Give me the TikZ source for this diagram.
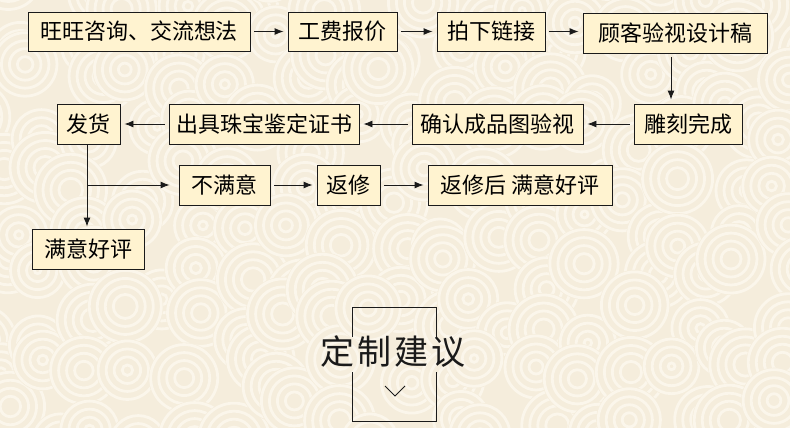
\documentclass[tikz,border=0pt]{standalone}
\usepackage{fontspec}
\newfontfamily\cjk{Noto Sans CJK SC}
\usetikzlibrary{arrows.meta,calc}

\definecolor{bgbase}{HTML}{F5EDDC}
\definecolor{ringc}{HTML}{FBF6EB}
\definecolor{boxfill}{HTML}{FFF3D0}
\definecolor{linec}{HTML}{1A1A1A}

\tikzset{
  box/.style={draw=linec, line width=0.9pt, fill=boxfill, inner xsep=2pt,
    minimum height=39pt, font=\cjk\fontsize{22}{26}\selectfont},
  arr/.style={draw=linec, line width=0.9pt, -{Latex[length=9pt,width=7pt]},
    shorten <=4pt, shorten >=4pt}
}

\begin{document}
\begin{tikzpicture}[x=1pt,y=-1pt]
  \useasboundingbox (0,0) rectangle (790,428);
  % background circles
  \begin{scope}
    \clip (0,0) rectangle (790,428);
    \fill[bgbase] (0,0) rectangle (790,428);
    \pgfmathsetseed{17}
    \foreach \i in {0,...,16}
      \foreach \j in {0,...,9} {
        \pgfmathsetmacro\cx{\i*50-10+rand*22}
        \pgfmathsetmacro\cy{\j*48-10+rand*22}
        \pgfmathsetmacro\rr{29+rnd*9}
        \fill[bgbase] (\cx,\cy) circle (\rr pt);
        \foreach \k in {0,...,3} {
          \pgfmathsetmacro\rk{\rr-2-\k*8}
          \draw[ringc, line width=2.8pt] (\cx,\cy) circle (\rk pt);
        }
      }
  \end{scope}

  % first row
  \node[box, minimum width=222pt] (consult) at (139,31.5) {旺旺咨询、交流想法};
  \node[box, minimum width=109pt] (price) at (342.5,31.5) {工费报价};
  \node[box, minimum width=108pt] (order) at (491,31.5) {拍下链接};
  \node[box, minimum width=184pt, minimum height=40pt] (draft) at (675,33) {顾客验视设计稿};
  % second row
  \node[box, minimum width=108pt, minimum height=40pt] (carve) at (688,124) {雕刻完成};
  \node[box, minimum width=171pt, minimum height=40pt] (check) at (497.5,124) {确认成品图验视};
  \node[box, minimum width=190pt, minimum height=40pt] (cert) at (264,124) {出具珠宝鉴定证书};
  \node[box, minimum width=63pt, minimum height=40pt] (ship) at (88.5,124) {发货};
  % third row
  \node[box, minimum width=91pt, minimum height=40pt] (unhappy) at (224.5,185) {不满意};
  \node[box, minimum width=63pt, minimum height=40pt] (repair) at (348.5,185) {返修};
  \node[box, minimum width=184pt, minimum height=40pt] (fixed) at (520,185) {返修后 满意好评};
  \node[box, minimum width=112pt, minimum height=40pt] (happy) at (88,249) {满意好评};

  \draw[arr] (consult) -- (price);
  \draw[arr] (price) -- (order);
  \draw[arr] (order.east) -- (order.east -| draft.west);
  \draw[arr] ([xshift=-4pt]draft.south) -- ([xshift=-4pt]draft.south |- carve.north);
  \draw[arr] (carve) -- (check);
  \draw[arr] (check) -- (cert);
  \draw[arr] (cert) -- (ship);
  \draw[arr, shorten <=0pt, shorten >=2pt] ([xshift=-1.5pt]ship.south) -- ([xshift=-1.5pt]ship.south |- happy.north);
  \draw[arr, shorten <=0pt, shorten >=9pt] ([xshift=-1.5pt]ship.south |- unhappy.west) -- (unhappy.west);
  \draw[arr] (unhappy) -- (repair);
  \draw[arr] (repair) -- (fixed);

  % title with frame
  \node[font=\cjk\fontsize{34}{40}\selectfont, text=linec, inner sep=0pt] (title) at (393,352) {定\hspace{3pt}制\hspace{3pt}建\hspace{3pt}议};
  \coordinate (frtl) at (352,307);
  \coordinate (frbr) at (436,421);
  \draw[linec, line width=0.9pt] (frtl |- 0,337) -- (frtl) -- (frtl -| frbr) -- (frbr |- 0,337);
  \draw[linec, line width=0.9pt] (frtl |- 0,372) -- (frtl |- frbr) -- (frbr) -- (frbr |- 0,372);
  \draw[linec, line width=0.8pt] (385,386) -- (395,396) -- (405,386);
\end{tikzpicture}
\end{document}
